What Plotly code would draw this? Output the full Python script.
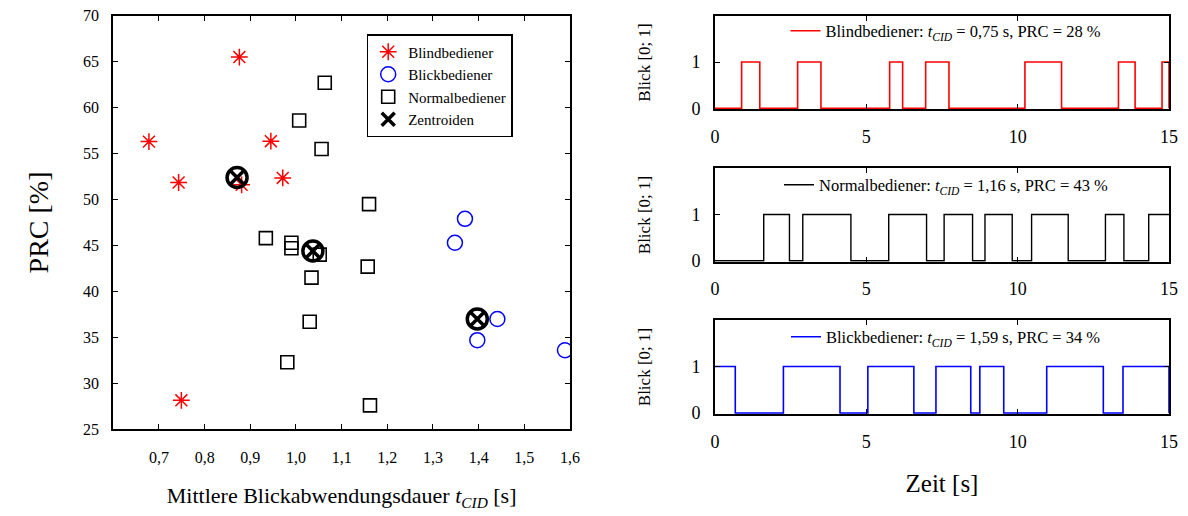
import plotly.graph_objects as go

# ---------------- data: scatter (left) ----------------
blind_x = [0.876, 0.678, 0.743, 0.945, 0.971, 0.881, 0.749]
blind_y = [65.5, 56.3, 51.85, 56.35, 52.35, 51.6, 28.15]

blick_x = [1.370, 1.348, 1.441, 1.397, 1.589]
blick_y = [47.9, 45.3, 37.0, 34.7, 33.6]

normal_x = [1.063, 1.007, 1.056, 1.160, 0.934, 0.990, 0.990, 1.052, 1.157, 1.034, 1.030, 0.981, 1.162]
normal_y = [62.7, 58.6, 55.5, 49.5, 45.8, 45.3, 44.7, 44.0, 42.7, 41.5, 36.7, 32.3, 27.6]

centroid_x = [0.871, 1.037, 1.397]
centroid_y = [52.4, 44.4, 37.0]

x_ticks = [0.7, 0.8, 0.9, 1.0, 1.1, 1.2, 1.3, 1.4, 1.5, 1.6]
y_ticks = [25, 30, 35, 40, 45, 50, 55, 60, 65, 70]

# ---------------- data: glance signals (right) ----------------
blind_t = [0, 0.88, 1.48, 2.73, 3.50, 5.77, 6.20, 6.96, 7.73, 10.24, 11.45, 13.33, 13.88, 14.77, 15]
blind_s = [0, 1, 0, 1, 0, 1, 0, 1, 0, 1, 0, 1, 0, 1, 0]

normal_t = [0, 1.61, 2.46, 2.90, 4.49, 5.74, 6.99, 7.57, 8.51, 8.92, 9.82, 10.46, 11.67, 12.90, 13.51, 14.33, 15]
normal_s = [0, 1, 0, 1, 0, 1, 0, 1, 0, 1, 0, 1, 0, 1, 0, 1, 1]

blick_t = [0, 0.67, 2.26, 4.13, 5.05, 6.57, 7.30, 8.45, 8.75, 9.54, 10.96, 12.83, 13.48, 15]
blick_s = [1, 0, 1, 0, 1, 0, 1, 0, 1, 0, 1, 0, 1, 0]

time_ticks = [0, 5, 10, 15]
blick_ticks = [0, 1]

FONT = "Liberation Serif"
W, H = 1188, 516


def px_x(p):
    return p / W


def px_y(p):
    return 1 - p / H


fig = go.Figure()

# scatter traces
fig.add_trace(go.Scatter(x=blind_x, y=blind_y, mode="markers", name="Blindbediener",
                         marker=dict(symbol="asterisk-open", size=14, color="red",
                                     line=dict(color="red", width=1.5)),
                         xaxis="x", yaxis="y", legend="legend"))
fig.add_trace(go.Scatter(x=blick_x, y=blick_y, mode="markers", name="Blickbediener",
                         marker=dict(symbol="circle-open", size=15, color="blue",
                                     line=dict(color="blue", width=1.5)),
                         xaxis="x", yaxis="y", legend="legend"))
fig.add_trace(go.Scatter(x=normal_x, y=normal_y, mode="markers", name="Normalbediener",
                         marker=dict(symbol="square-open", size=13, color="black",
                                     line=dict(color="black", width=1.6)),
                         xaxis="x", yaxis="y", legend="legend"))
fig.add_trace(go.Scatter(x=centroid_x, y=centroid_y, mode="markers", name="Zentroiden",
                         marker=dict(symbol="x-thin-open", size=13, color="black",
                                     line=dict(color="black", width=3.5)),
                         xaxis="x", yaxis="y", legend="legend"))
fig.add_trace(go.Scatter(x=centroid_x, y=centroid_y, mode="markers", showlegend=False,
                         marker=dict(symbol="circle-open", size=20, color="black",
                                     line=dict(color="black", width=3.5)),
                         xaxis="x", yaxis="y"))

# step signals
tcid = "<i>t</i><sub><i>CID</i></sub>"
fig.add_trace(go.Scatter(x=blind_t, y=blind_s, mode="lines", line_shape="hv",
                         line=dict(color="red", width=1.6),
                         name=f"Blindbediener: {tcid} = 0,75 s, PRC = 28 %",
                         xaxis="x2", yaxis="y2", legend="legend2"))
fig.add_trace(go.Scatter(x=normal_t, y=normal_s, mode="lines", line_shape="hv",
                         line=dict(color="black", width=1.4),
                         name=f"Normalbediener: {tcid} = 1,16 s, PRC = 43 %",
                         xaxis="x3", yaxis="y3", legend="legend3"))
fig.add_trace(go.Scatter(x=blick_t, y=blick_s, mode="lines", line_shape="hv",
                         line=dict(color="blue", width=1.6),
                         name=f"Blickbediener: {tcid} = 1,59 s, PRC = 34 %",
                         xaxis="x4", yaxis="y4", legend="legend4"))

axis_base = dict(showline=True, linecolor="black", linewidth=2, mirror="allticks",
                 ticks="inside", ticklen=5, tickwidth=1.2, tickcolor="black",
                 showgrid=False, zeroline=False, automargin=False)

# left plot
fig.update_layout(
    xaxis=dict(domain=[px_x(113.3), px_x(570)], range=[0.6, 1.6], tickvals=x_ticks,
               tickformat=".1f", anchor="y", ticklabelstandoff=12,
               tickfont=dict(family=FONT, size=16, color="black"),
               title=dict(text=f"Mittlere Blickabwendungsdauer {tcid} [s]",
                          font=dict(family=FONT, size=22, color="black"), standoff=23),
               **axis_base),
    yaxis=dict(domain=[px_y(429.3), px_y(15.7)], range=[25, 70], tickvals=y_ticks,
               anchor="x", ticklabelstandoff=9,
               tickfont=dict(family=FONT, size=16, color="black"),
               title=dict(text="PRC [%]", font=dict(family=FONT, size=28, color="black"),
                          standoff=26),
               **axis_base),
)

panels = [(15.7, 109.3), (168.3, 261.7), (320.0, 414.0)]
xd = [px_x(715), px_x(1169)]
for i, (top, bot) in enumerate(panels):
    xn = f"xaxis{i + 2}"
    yn = f"yaxis{i + 2}"
    xa = dict(domain=xd, range=[0, 15], tickvals=time_ticks, anchor=f"y{i + 2}",
              ticklabelstandoff=10, tickfont=dict(family=FONT, size=18, color="black"),
              **axis_base)
    if i == 2:
        xa["title"] = dict(text="Zeit [s]", font=dict(family=FONT, size=25, color="black"),
                           standoff=24)
    ya = dict(domain=[px_y(bot), px_y(top)], range=[-0.02, 2], tickvals=blick_ticks,
              anchor=f"x{i + 2}", ticklabelstandoff=9,
              tickfont=dict(family=FONT, size=18, color="black"),
              title=dict(text="Blick [0; 1]", font=dict(family=FONT, size=17, color="black"),
                         standoff=36),
              **axis_base)
    fig.update_layout(**{xn: xa, yn: ya})

legend_right = dict(bgcolor="rgba(0,0,0,0)", borderwidth=0, xanchor="center",
                    yanchor="middle", font=dict(family=FONT, size=16.5, color="black"),
                    itemwidth=30)

fig.update_layout(
    width=W, height=H,
    margin=dict(l=0, r=0, t=0, b=0),
    paper_bgcolor="white", plot_bgcolor="white",
    separators=",.",
    showlegend=True,
    font=dict(family=FONT, color="black"),
    legend=dict(x=px_x(366.7), y=px_y(34), xanchor="left", yanchor="top",
                bgcolor="white", bordercolor="black", borderwidth=1.5,
                font=dict(family=FONT, size=15, color="black"),
                tracegroupgap=0, itemsizing="trace",
                entrywidth=140, entrywidthmode="pixels"),
    legend2=dict(x=px_x(946), y=px_y(31), **legend_right),
    legend3=dict(x=px_x(946), y=px_y(185), **legend_right),
    legend4=dict(x=px_x(946), y=px_y(337), **legend_right),
)

fig.write_html("out.html", config={"displayModeBar": False},
               post_script="document.body.style.margin='0';document.body.style.overflow='hidden';")
